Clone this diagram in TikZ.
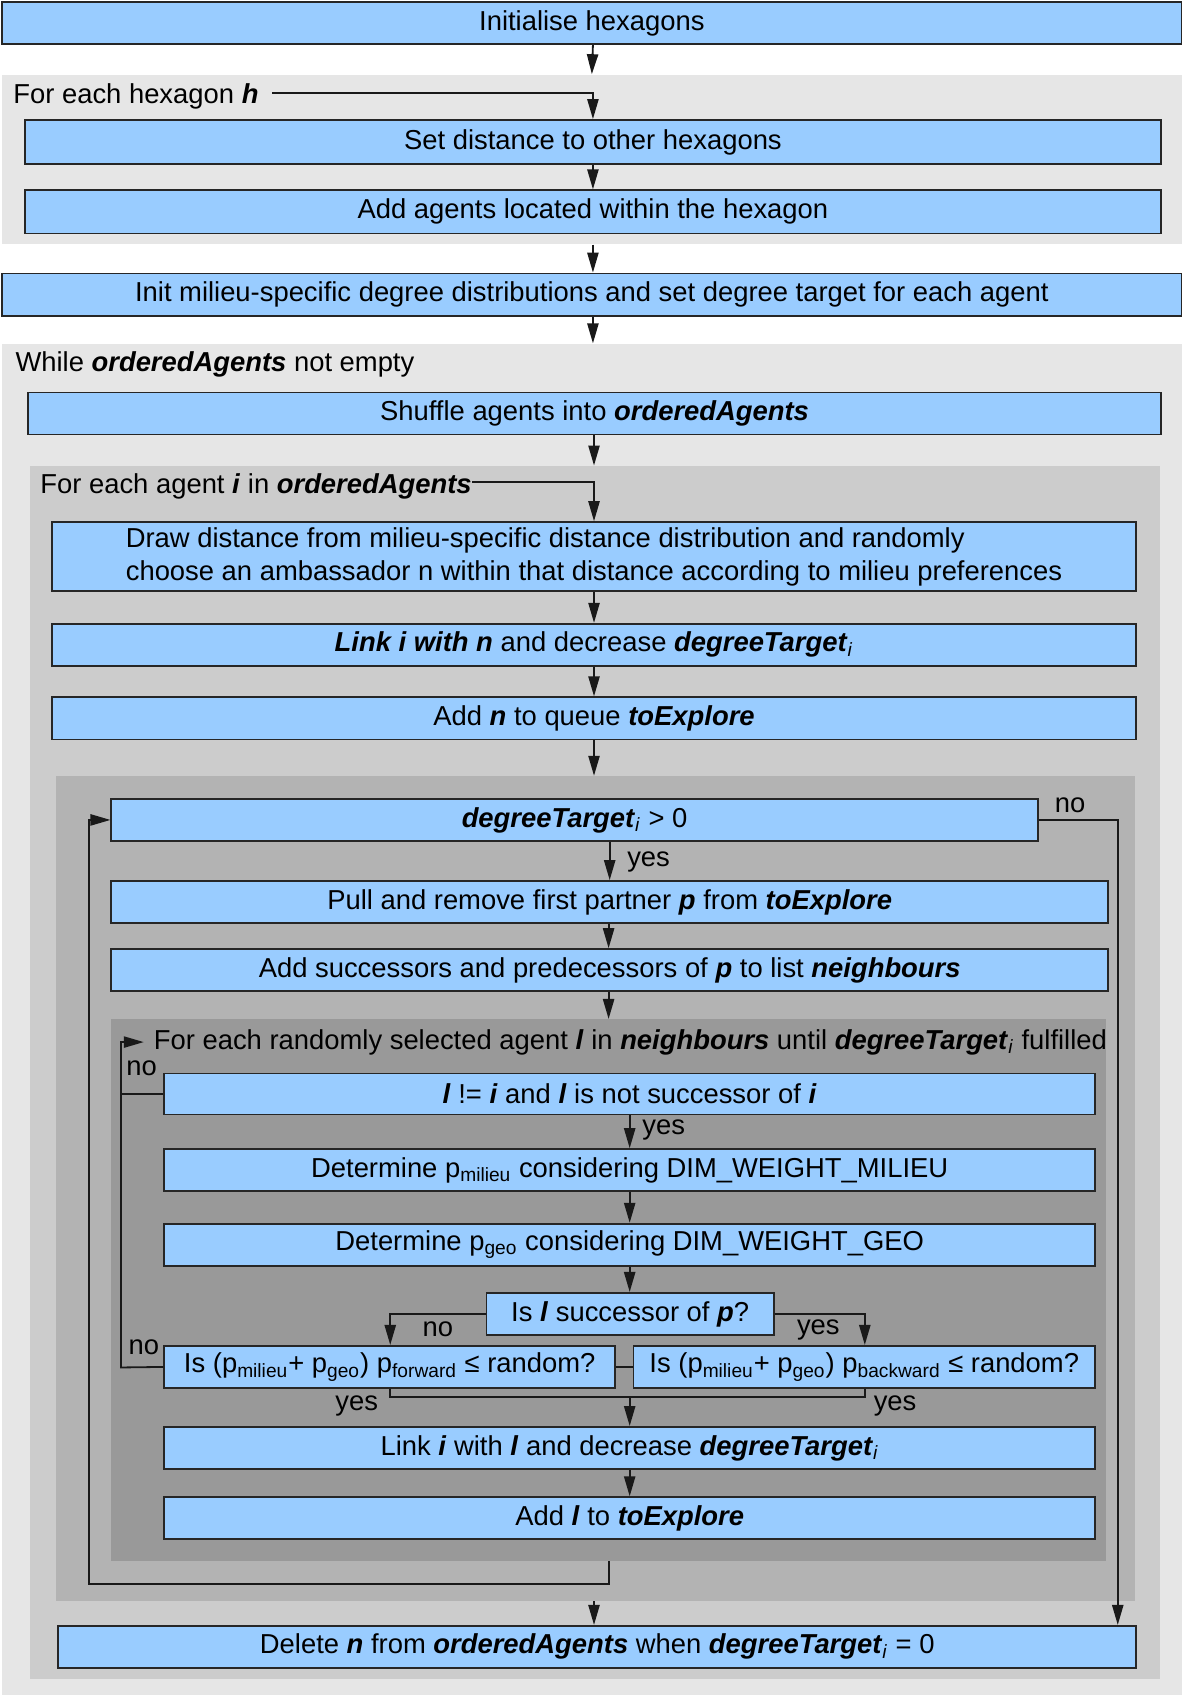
\documentclass[tikz,border=0pt]{standalone}
\usepackage{fontspec}
\setmainfont{Liberation Sans}
\usetikzlibrary{fit,arrows.meta}
\definecolor{boxblue}{HTML}{99CCFF}
\definecolor{gA}{HTML}{E6E6E6}
\definecolor{gB}{HTML}{CCCCCC}
\definecolor{gC}{HTML}{B3B3B3}
\definecolor{gD}{HTML}{999999}
\newcommand\fs{\fontsize{13.7}{16.6}\selectfont}
\newcommand\bi[1]{\textbf{\textit{#1}}}
\newcommand\sbs[1]{\textsubscript{#1}}
\tikzset{
  blk/.style={draw=black!85, line width=0.9pt, fill=boxblue, inner sep=0pt, font=\fs},
  region/.style={fill=#1, draw=none, inner sep=0pt},
  con/.style={draw=black!90, line width=0.9pt},
  arr/.style={con, -{Triangle[length=10pt,width=5.6pt]}},
  lbl/.style={inner sep=0pt, font=\fs},
}
% \bx[options]{name}{x1}{y1}{x2}{y2}{text}
\newcommand\bx[7][]{%
  \node[blk,#1,minimum width={(#5-#3)*0.5407pt},minimum height={(#6-#4)*0.5407pt}]
    (#2) at ({(#3+#5)/2},{(#4+#6)/2}) {#7};}
\begin{document}
\begin{tikzpicture}[x=0.5407pt,y=-0.5407pt]
\useasboundingbox (0,0) rectangle (1094,1568);
\fill[white] (0,0) rectangle (1094,1568);
% regions
\node[region=gA, fit={(2,69)(1093,226)}] (g1) {};
\node[region=gA, fit={(2,318)(1093,1568)}] (g2) {};
\node[region=gB, fit={(28,431)(1073,1553)}] (g3) {};
\node[region=gC, fit={(52,718)(1050,1481)}] (g4) {};
\node[region=gD, fit={(103,943)(1023,1444)}] (g5) {};
% boxes
\bx{init}{2}{2}{1093}{41}{Initialise hexagons}
\bx{set}{23}{111}{1074}{152}{Set distance to other hexagons}
\bx{add}{23}{176}{1074}{216}{Add agents located within the hexagon}
\bx{initm}{2}{253}{1093}{292}{Init milieu-specific degree distributions and set degree target for each agent}
\bx{shuf}{26}{363}{1074}{402}{Shuffle agents into \bi{orderedAgents}}
\bx[align=left]{draw}{48}{483}{1051}{547}{Draw distance from milieu-specific distance distribution and randomly\\choose an ambassador n within that distance according to milieu preferences}
\bx{link}{48}{577}{1051}{616}{\bi{Link i with n} and decrease \bi{degreeTarget}\sbs{\textit{i}}}
\bx{addn}{48}{645}{1051}{684}{Add \bi{n} to queue \bi{toExplore}}
\bx{dt}{103}{739}{960}{778}{\bi{degreeTarget}\sbs{\textit{i}} > 0}
\bx{pull}{103}{815}{1025}{854}{Pull and remove first partner \bi{p} from \bi{toExplore}}
\bx{succ}{103}{878}{1025}{917}{Add successors and predecessors of \bi{p} to list \bi{neighbours}}
\bx{lneq}{152}{993}{1013}{1031}{\bi{l} != \bi{i} and \bi{l} is not successor of \bi{i}}
\bx{pmil}{152}{1063}{1013}{1102}{Determine p\sbs{milieu} considering DIM\_WEIGHT\_MILIEU}
\bx{pgeo}{152}{1132}{1013}{1171}{Determine p\sbs{geo} considering DIM\_WEIGHT\_GEO}
\bx{issuc}{450}{1196}{716}{1235}{Is \bi{l} successor of \bi{p}?}
\bx{fwd}{152}{1245}{569}{1284}{Is (p\sbs{milieu}+ p\sbs{geo}) p\sbs{forward} ≤ random?}
\bx{bwd}{586}{1245}{1013}{1284}{Is (p\sbs{milieu}+ p\sbs{geo}) p\sbs{backward} ≤ random?}
\bx{linkl}{152}{1320}{1013}{1359}{Link \bi{i} with \bi{l} and decrease \bi{degreeTarget}\sbs{\textit{i}}}
\bx{addl}{152}{1385}{1013}{1424}{Add \bi{l} to \bi{toExplore}}
\bx{del}{54}{1504}{1051}{1543}{Delete \bi{n} from \bi{orderedAgents} when \bi{degreeTarget}\sbs{\textit{i}} = 0}
% loop headers
\node[lbl, anchor=west] (fh) at (12,89) {For each hexagon \bi{h}};
\node[lbl, anchor=west] (wh) at (14,337) {While \bi{orderedAgents} not empty};
\node[lbl, anchor=west] (fea) at (37,450) {For each agent \bi{i} in \bi{orderedAgents}};
\node[lbl, anchor=west] (frt) at (142,964) {For each randomly selected agent \bi{l} in \bi{neighbours} until \bi{degreeTarget}\sbs{\textit{i}} fulfilled};
% labels
\node[lbl] (l1) at (990,745) {no};
\node[lbl] (l2) at (600,797) {yes};
\node[lbl] (l3) at (131,988) {no};
\node[lbl] (l4) at (614,1045) {yes};
\node[lbl] (l5) at (405,1230) {no};
\node[lbl] (l6) at (757,1230) {yes};
\node[lbl] (l7) at (133,1246) {no};
\node[lbl] (l8) at (330,1301) {yes};
\node[lbl] (l9) at (828,1301) {yes};
% coordinates
\coordinate (fhs) at (252,86);
\coordinate (feas) at (437,446);
\coordinate (nr) at (1034,0);
\coordinate (lb) at (82,1465);
\coordinate (fr) at (112,964);
\coordinate (frtip) at (133,964);
\coordinate (fb) at (112,1265);
\coordinate (jn) at (582.5,1292);
\coordinate (nl) at (361,1215);
\coordinate (yr) at (800,1215);
% connectors
\draw[arr] (init.south -| set.north) -- (init.south |- g1.north);
\draw[arr] (fhs) -| (set.north);
\draw[arr] (set.south) -- (add.north);
\draw[arr] (g1.south -| set.south) -- (set.south |- initm.north);
\draw[arr] (initm.south -| set.south) -- (set.south |- g2.north);
\draw[arr] (shuf.south -| draw.north) -- (draw.north |- g3.north);
\draw[arr] (feas) -| (draw.north);
\draw[arr] (draw.south) -- (link.north);
\draw[arr] (link.south) -- (addn.north);
\draw[arr] (addn.south) -- (addn.south |- g4.north);
\draw[arr] (dt.south -| pull.north) -- (pull.north);
\draw[arr] (pull.south -| g5.north) -- (g5.north |- succ.north);
\draw[arr] (succ.south -| g5.north) -- (g5.north);
\draw[arr] (dt.east) -| (nr |- del.north);
\draw[arr] (g5.south) |- (lb) |- (dt.west);
\draw[arr] (fwd.west) -- (fb) -- (fr) -- (frtip);
\draw[con] (lneq.west) -- (lneq.west -| fb);
\draw[arr] (lneq.south) -- (pmil.north);
\draw[arr] (pmil.south) -- (pgeo.north);
\draw[arr] (pgeo.south) -- (pgeo.south |- issuc.north);
\draw[arr] (issuc.west) -| (nl |- fwd.north);
\draw[arr] (issuc.east) -| (yr |- bwd.north);
\draw[con] (fwd.east) -- (bwd.west);
\draw[con] (nl |- fwd.south) |- (jn) -| (yr |- bwd.south);
\draw[arr] (jn) -- (linkl.north);
\draw[arr] (linkl.south) -- (addl.north);
\draw[arr] (g4.south -| addn.south) -- (addn.south |- del.north);
\end{tikzpicture}
\end{document}
